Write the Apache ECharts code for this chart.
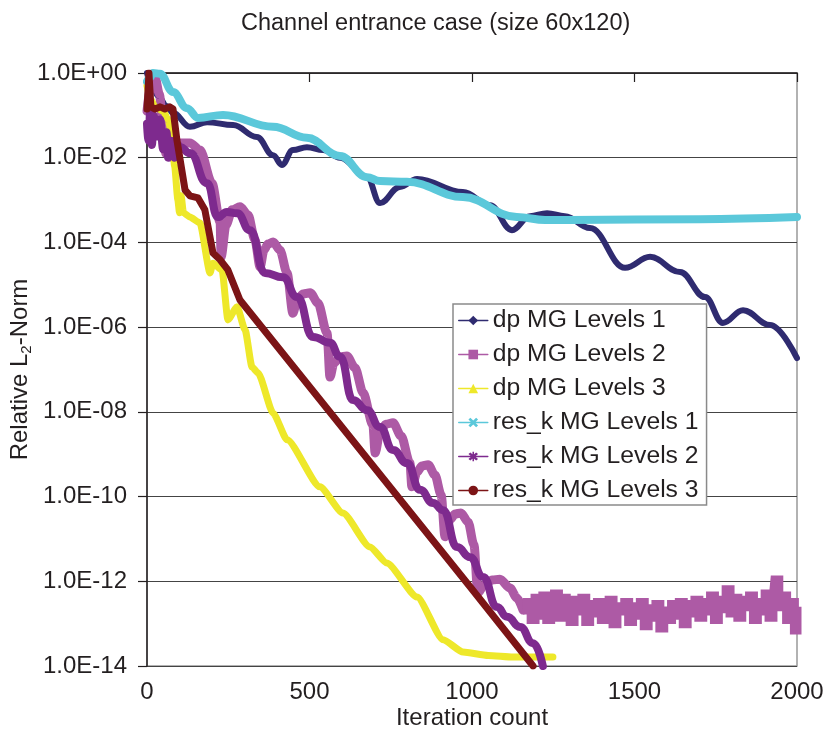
<!DOCTYPE html>
<html>
<head>
<meta charset="utf-8">
<script src="https://cdn.jsdelivr.net/npm/echarts@6/dist/echarts.min.js"></script>
<style>
html,body{margin:0;padding:0;background:#fff;}
#chart{width:829px;height:746px;}
</style>
</head>
<body>
<div id="chart"></div>
<script>
// Values are [iteration, log10(relative L2-norm)];
// the y axis is drawn in decades (exponent of 10) and labelled 1.0E±XX.
const seriesNames = ['dp MG Levels 1','dp MG Levels 2','dp MG Levels 3','res_k MG Levels 1','res_k MG Levels 2','res_k MG Levels 3'];
const xTicks = [0, 500, 1000, 1500, 2000];
const yTickExps = [0, -2, -4, -6, -8, -10, -12, -14];

const dp1Exp = [[0,0],[15,-0.3],[35,-0.55],[60,-0.78],[80,-0.94],[132,-1.27],[185,-1.16],[265,-1.23],[338,-1.51],[388,-1.94],[415,-2.17],[449,-1.82],[492,-1.75],[542,-1.82],[594,-2.0],[677,-2.46],[717,-3.07],[778,-2.69],[831,-2.50],[972,-2.81],[1055,-3.12],[1123,-3.71],[1178,-3.38],[1231,-3.31],[1286,-3.38],[1363,-3.66],[1471,-4.60],[1548,-4.34],[1640,-4.70],[1717,-5.29],[1772,-5.90],[1834,-5.60],[1917,-5.95],[2000,-6.73]];

// dp MG Levels 2: converging part (arches) and the noisy plateau
const dp2Exp = [[0,-0.9],[12,-0.3],[25,-0.1],[38,-0.5],[50,-1.3],[58,-1.9],[66,-1.4],[78,-2.0],[90,-1.7],
[102,-1.65],[132,-1.65],[163,-1.82],[200,-2.60],[225,-3.52],[228,-4.34],
[243,-3.59],[262,-3.23],[286,-3.16],[311,-3.35],[332,-3.94],[348,-4.58],
[360,-4.18],[372,-4.04],[388,-3.99],[409,-4.18],[431,-4.72],[449,-5.67],
[462,-5.36],[480,-5.22],[502,-5.19],[526,-5.43],[554,-6.14],[563,-7.18],
[575,-6.85],[594,-6.70],[615,-6.68],[640,-6.96],[665,-7.55],[695,-8.31],[702,-8.97],
[717,-8.47],[735,-8.29],[757,-8.26],[782,-8.57],[809,-9.21],[815,-9.77],
[831,-9.42],[846,-9.28],[865,-9.25],[886,-9.49],[905,-9.96],[917,-10.95],
[932,-10.55],[948,-10.41],[966,-10.39],[988,-10.60],[1006,-11.14],[1018,-12.28],
[1037,-12.09],[1062,-11.97],[1086,-11.95],[1117,-12.16],[1138,-12.39],[1157,-12.68]];

const dp2NoiseExp = [[1157,-12.68],[1170,-12.5],[1182,-12.9],[1194,-12.4],[1206,-12.8],[1218,-12.35],[1230,-12.9],[1242,-12.5],[1254,-12.3],[1266,-12.85],[1278,-12.4],[1290,-12.6],[1302,-12.95],[1314,-12.45],[1326,-12.7],[1338,-12.4],[1350,-12.95],[1362,-12.55],[1374,-12.75],[1386,-12.5],[1398,-12.9],[1410,-12.6],[1422,-12.45],[1434,-13.0],[1446,-12.6],[1458,-12.7],[1470,-12.5],[1482,-12.95],[1494,-12.6],[1506,-12.8],[1518,-12.5],[1530,-13.05],[1542,-12.65],[1554,-12.85],[1566,-12.55],[1578,-13.1],[1590,-12.7],[1602,-12.9],[1614,-12.55],[1626,-12.8],[1638,-12.5],[1650,-13.0],[1662,-12.55],[1674,-12.75],[1686,-12.45],[1698,-12.85],[1710,-12.5],[1722,-12.7],[1734,-12.35],[1746,-12.9],[1758,-12.45],[1770,-12.65],[1782,-12.2],[1794,-12.75],[1806,-12.4],[1818,-12.85],[1830,-12.45],[1842,-12.6],[1854,-12.35],[1866,-12.9],[1878,-12.5],[1890,-12.7],[1902,-12.3],[1914,-12.85],[1926,-12.45],[1932,-11.97],[1944,-12.6],[1956,-12.35],[1968,-12.9],[1980,-12.5],[1992,-13.15],[2000,-12.6]];

const dp3Exp = [[0,-0.3],[10,-0.6],[25,-0.8],[50,-0.9],[65,-1.1],[75,-1.4],[85,-2.2],[95,-3.0],[100,-3.3],[105,-2.9],[112,-3.3],[132,-3.40],[163,-3.54],[194,-4.72],[203,-4.49],[231,-4.65],[249,-5.83],[277,-5.52],[302,-6.07],[323,-6.94],[342,-7.08],[388,-8.03],[431,-8.66],[532,-9.77],[603,-10.39],[686,-11.19],[738,-11.57],[831,-12.37],[911,-13.38],[972,-13.67],[1050,-13.75],[1126,-13.79],[1249,-13.79]];

const res1Exp = [[0,-0.2],[10,-0.1],[18,0],[40,-0.02],[80,-0.45],[123,-0.83],[157,-1.06],[234,-0.99],[388,-1.27],[492,-1.53],[594,-1.96],[677,-2.46],[717,-2.55],[800,-2.57],[972,-2.93],[1138,-3.40],[1225,-3.47],[1302,-3.47],[1702,-3.45],[2000,-3.40]];

const res2Exp = [[0,-1.2],[5,-1.6],[10,-0.9],[15,-1.7],[20,-1.0],[30,-1.5],[40,-1.1],[50,-1.8],[60,-1.4],[65,-2.0],[75,-1.6],[85,-2.0],[95,-1.7],[102,-1.75],[132,-1.89],[185,-2.60],[218,-3.40],[246,-3.28],[277,-3.31],[317,-3.71],[363,-4.72],[418,-4.82],[462,-5.29],[511,-6.23],[563,-6.37],[594,-6.70],[634,-7.72],[677,-7.96],[717,-8.36],[757,-8.90],[800,-9.21],[840,-9.84],[880,-10.15],[911,-10.32],[954,-11.19],[994,-11.43],[1034,-11.90],[1077,-12.61],[1108,-12.84],[1148,-13.08],[1188,-13.46],[1218,-14.0]];

const res3Exp = [[0,-0.85],[6,0],[12,-0.8],[25,-0.85],[40,-0.8],[55,-0.85],[70,-0.8],[80,-0.85],[92,-1.58],[117,-2.76],[132,-2.90],[157,-2.95],[178,-3.23],[203,-4.25],[225,-4.41],[249,-4.65],[286,-5.36],[994,-12.13],[1188,-14.0]];

const colors = ['#2F2B70','#AD5AA5','#EEE82A','#5BC8DA','#7E2A8E','#7C1416'];
const widths = [6, 9, 7, 8, 8, 7];
const smooths = [0.4, 0.3, 0.2, 0.4, 0.5, false];
const xPath = 'path://M2,0L5,3L8,0L10,2L7,5L10,8L8,10L5,7L2,10L0,8L3,5L0,2Z';
const starPath = 'path://M2,0L5,3L8,0L10,2L7,5L10,8L8,10L5,7L2,10L0,8L3,5L0,2Z M4.2,-1L5.8,-1L5.8,11L4.2,11Z';
const symbols = ['diamond','rect','triangle', xPath, starPath, 'circle'];
const symbolSizes = [9, 9, 10, 10, 11, 10];

const allExp = [dp1Exp, dp2Exp, dp3Exp, res1Exp, res2Exp, res3Exp];

function fmtExp(e){
  const a = Math.abs(Math.round(e));
  return '1.0E' + (e < 0 ? '-' : '+') + (a < 10 ? '0' + a : '' + a);
}

const lineSeries = allExp.map((arr, i) => ({
  name: seriesNames[i],
  type: 'line',
  data: arr,
  showSymbol: false,
  symbol: symbols[i],
  symbolSize: symbolSizes[i],
  smooth: smooths[i],
  smoothMonotone: 'x',
  clip: true,
  color: colors[i],
  itemStyle: {color: colors[i]},
  lineStyle: {color: colors[i], width: widths[i], cap: 'round', join: 'round'},
  emphasis: {disabled: true},
  z: 2 + i
}));
// noisy plateau of dp MG Levels 2 (same legend entry)
lineSeries.splice(2, 0, {
  name: seriesNames[1],
  type: 'line',
  data: dp2NoiseExp,
  showSymbol: false,
  symbol: symbols[1],
  step: 'end',
  clip: true,
  color: colors[1],
  itemStyle: {color: colors[1]},
  lineStyle: {color: colors[1], width: widths[1], cap: 'butt', join: 'miter'},
  emphasis: {disabled: true},
  z: 3
});

const chart = echarts.init(document.getElementById('chart'), null, {renderer:'canvas'});
const font = 'Liberation Sans, Arial, sans-serif';
chart.setOption({
  animation: false,
  backgroundColor: '#fff',
  textStyle: {fontFamily: font},
  title: {
    text: 'Channel entrance case (size 60x120)',
    left: 236, top: 7,
    textStyle: {fontSize: 23.5, fontWeight: 'normal', color: '#231f20', fontFamily: font}
  },
  grid: {left: 147, right: 32, top: 73, bottom: 80, show: true, borderColor: '#999', borderWidth: 1.5,
    backgroundColor: 'transparent', containLabel: false, outerBoundsMode: 'none'},
  legend: {
    orient: 'vertical', left: 453, top: 304,
    data: seriesNames,
    backgroundColor: '#fff', borderColor: '#8a8a8a', borderWidth: 1.5,
    padding: [4, 8, 2, 5],
    itemWidth: 29, itemHeight: 12, itemGap: 9,
    lineStyle: {width: 1.5},
    textStyle: {fontSize: 24.7, color: '#231f20', lineHeight: 24, fontFamily: font}
  },
  xAxis: {
    type: 'value', min: 0, max: 2000, interval: 500,
    name: 'Iteration count', nameLocation: 'middle', nameGap: 40, nameMoveOverlap: false,
    nameTextStyle: {fontSize: 24, color: '#231f20', fontFamily: font},
    axisLine: {show: true, lineStyle: {color: '#231f20', width: 1.5}},
    axisTick: {show: true, inside: false, length: 9, lineStyle: {color: '#231f20', width: 1.2}},
    axisLabel: {fontSize: 24, color: '#231f20', margin: 14, fontFamily: font,
      formatter: v => xTicks.indexOf(v) >= 0 ? String(v) : ''},
    splitLine: {show: false}
  },
  yAxis: {
    type: 'value', min: -14, max: 0, interval: 2,
    name: 'Relative L{sub|2}-Norm', nameLocation: 'middle', nameGap: 113, nameRotate: 90, nameMoveOverlap: false,
    nameTextStyle: {fontSize: 24, color: '#231f20', fontFamily: font,
      rich: {sub: {fontSize: 15, color: '#231f20', fontFamily: font, verticalAlign: 'bottom', padding: [12, 0, 0, 0]}}},
    axisLine: {show: true, lineStyle: {color: '#231f20', width: 1.5}},
    axisTick: {show: true, inside: false, length: 9, lineStyle: {color: '#231f20', width: 1.2}},
    axisLabel: {fontSize: 24, color: '#231f20', margin: 20, fontFamily: font,
      formatter: v => yTickExps.indexOf(v) >= 0 ? fmtExp(v) : ''},
    splitLine: {show: true, lineStyle: {color: '#444', width: 1.2}}
  },
  series: lineSeries
});
</script>
</body>
</html>
